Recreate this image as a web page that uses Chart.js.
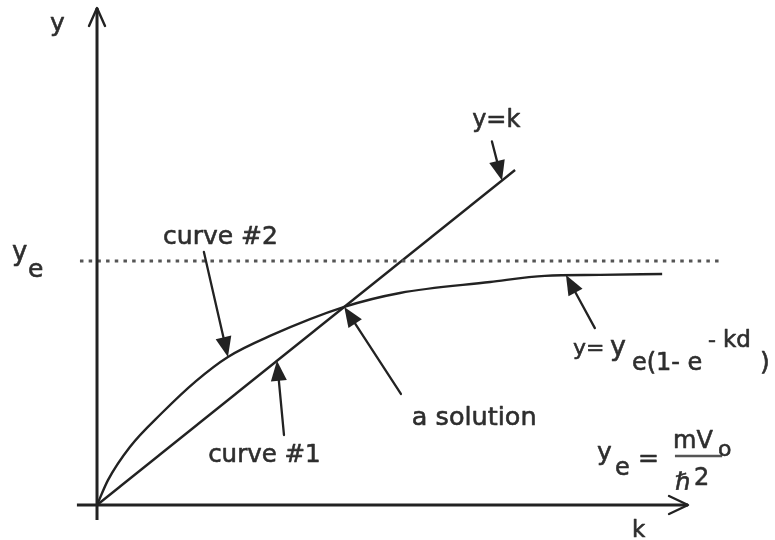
<!DOCTYPE html>
<html>
<head>
<meta charset="utf-8">
<script src="https://cdn.jsdelivr.net/npm/chart.js@4.4.0/dist/chart.umd.js"></script>
<style>
  html, body { margin: 0; padding: 0; background: #fff; }
  #wrap { width: 775px; height: 540px; }
  canvas { filter: blur(0.5px); }
</style>
</head>
<body>
<div id="wrap"><canvas id="chart" width="775" height="540"></canvas></div>
<script>
// curve #1: y = k
const lineK = [0, 1.373];
const lineY = [0, 1.373];

// curve #2: y = ye(1 - e^-kd), with ye = 1
const curveK = [0, 0.036, 0.108, 0.213, 0.325, 0.430, 0.568, 0.812, 0.995, 1.291, 1.471, 1.652, 1.856];
const curveY = [0, 0.102, 0.238, 0.377, 0.508, 0.607, 0.693, 0.812, 0.869, 0.914, 0.939, 0.943, 0.947];

// saturation level ye and the k range of its dotted line
const yeLevel = 1;
const yeSpan = [-0.056, 2.053];

// axis extents
const kAxisSpan = [-0.066, 1.941];
const yAxisSpan = [-0.061, 2.037];

const ink = '#222';
const textInk = '#2e2e2e';
const FONT = '"DejaVu Sans", sans-serif';

function toPoints(xs, ys) {
    return xs.map((x, i) => ({ x: x, y: ys[i] }));
}

// pointer arrows: tail -> tip, in data units
const pointers = [
    { from: [1.297, 1.490], to: [1.330, 1.330] },   // y=k
    { from: [0.351, 1.037], to: [0.430, 0.607] },   // curve #2
    { from: [0.614, 0.287], to: [0.591, 0.591] },   // curve #1
    { from: [0.998, 0.455], to: [0.812, 0.812] },   // a solution
    { from: [1.635, 0.725], to: [1.540, 0.943] }    // y = ye(1 - e^-kd)
];

// text, anchored at left/baseline in data units; dx/dy place each run in px
const labels = [
    { at: [-0.154, 1.943], runs: [{ t: 'y', size: 25 }] },
    { at: [-0.279, 1.004], runs: [{ t: 'y', size: 26 }, { t: 'e', size: 25, dx: 16, dy: 17 }] },
    { at: [0.217, 1.070], runs: [{ t: 'curve #2', size: 25 }] },
    { at: [1.232, 1.549], runs: [{ t: 'y=k', size: 24 }] },
    { at: [0.365, 0.176], runs: [{ t: 'curve #1', size: 24.5 }] },
    { at: [1.034, 0.328], runs: [{ t: 'a solution', size: 25.5 }] },
    { at: [1.563, 0.615], runs: [
        { t: 'y=', size: 22 },
        { t: 'y', size: 27, dx: 37 },
        { t: 'e(1- e', size: 24, dx: 59, dy: 15 },
        { t: '-', size: 22, dx: 135, dy: -8 },
        { t: 'kd', size: 23, dx: 150, dy: -8 },
        { t: ')', size: 25, dx: 187, dy: 15 }
    ] },
    { at: [1.642, 0.184], runs: [{ t: 'y', size: 25 }, { t: 'e', size: 24, dx: 18, dy: 15 }] },
    { at: [1.777, 0.160], runs: [{ t: '=', size: 25 }] },
    { at: [1.892, 0.234], runs: [{ t: 'mV', size: 24 }, { t: 'o', size: 22, dx: 45, dy: 8 }] },
    { at: [1.898, 0.061], runs: [{ t: '\u210F', size: 24 }, { t: '2', size: 24, dx: 19, dy: -5 }] },
    { at: [1.757, -0.131], runs: [{ t: 'k', size: 23 }] }
];

// fraction bar of mVo / h-bar^2
const fractionBar = { k: [1.898, 2.053], y: 0.201 };

function drawLabel(ctx, x, y, runs) {
    runs.forEach(r => {
        ctx.font = r.size + 'px ' + FONT;
        const rx = x + (r.dx || 0), ry = y + (r.dy || 0);
        ctx.fillText(r.t, rx, ry);
        ctx.strokeText(r.t, rx, ry);
    });
}

const diagramPlugin = {
    id: 'diagram',
    afterDatasetsDraw(chart) {
        const ctx = chart.ctx;
        const xs = chart.scales.x, ys = chart.scales.y;
        const px = v => xs.getPixelForValue(v);
        const py = v => ys.getPixelForValue(v);

        ctx.save();
        ctx.strokeStyle = ink;
        ctx.fillStyle = ink;
        ctx.lineCap = 'round';
        ctx.lineJoin = 'round';

        // open heads on both axes
        ctx.lineWidth = 2.4;
        const kx = px(kAxisSpan[1]), ky = py(0);
        ctx.beginPath();
        ctx.moveTo(kx - 19, ky - 9); ctx.lineTo(kx, ky); ctx.lineTo(kx - 19, ky + 9);
        ctx.stroke();
        const yx = px(0), yy = py(yAxisSpan[1]);
        ctx.beginPath();
        ctx.moveTo(yx - 8, yy + 18); ctx.lineTo(yx, yy); ctx.lineTo(yx + 8, yy + 18);
        ctx.stroke();

        // pointer arrows with filled heads
        pointers.forEach(p => {
            const x0 = px(p.from[0]), y0 = py(p.from[1]);
            const x1 = px(p.to[0]), y1 = py(p.to[1]);
            const a = Math.atan2(y1 - y0, x1 - x0);
            const len = 20, half = 8;
            const bx = x1 - len * Math.cos(a), by = y1 - len * Math.sin(a);
            ctx.lineWidth = 2.3;
            ctx.beginPath();
            ctx.moveTo(x0, y0); ctx.lineTo(bx, by);
            ctx.stroke();
            ctx.beginPath();
            ctx.moveTo(x1, y1);
            ctx.lineTo(bx + half * Math.sin(a), by - half * Math.cos(a));
            ctx.lineTo(bx - half * Math.sin(a), by + half * Math.cos(a));
            ctx.closePath();
            ctx.fill();
        });

        // fraction bar
        ctx.lineWidth = 2.5;
        ctx.lineCap = 'butt';
        ctx.strokeStyle = '#555';
        ctx.beginPath();
        ctx.moveTo(px(fractionBar.k[0]), py(fractionBar.y));
        ctx.lineTo(px(fractionBar.k[1]), py(fractionBar.y));
        ctx.stroke();

        // labels
        ctx.fillStyle = textInk;
        ctx.strokeStyle = textInk;
        ctx.lineWidth = 0.6;
        ctx.textBaseline = 'alphabetic';
        ctx.textAlign = 'left';
        labels.forEach(l => drawLabel(ctx, px(l.at[0]), py(l.at[1]), l.runs));

        ctx.restore();
    }
};

const solid = { showLine: true, pointRadius: 0, borderColor: ink, fill: false };

new Chart(document.getElementById('chart'), {
    type: 'scatter',
    data: {
        datasets: [
            Object.assign({ label: 'k axis', data: toPoints(kAxisSpan, [0, 0]), borderWidth: 3 }, solid),
            Object.assign({ label: 'y axis', data: toPoints([0, 0], yAxisSpan), borderWidth: 3 }, solid),
            Object.assign({ label: 'ye', data: toPoints(yeSpan, [yeLevel, yeLevel]), borderWidth: 3,
                borderDash: [3.5, 5.2], borderCapStyle: 'butt', borderColor: '#555' }, { showLine: true, pointRadius: 0 }),
            Object.assign({ label: 'curve #1', data: toPoints(lineK, lineY), borderWidth: 2.4 }, solid),
            Object.assign({ label: 'curve #2', data: toPoints(curveK, curveY), borderWidth: 2.4,
                cubicInterpolationMode: 'monotone' }, solid)
        ]
    },
    options: {
        responsive: false,
        animation: false,
        layout: { padding: 0 },
        scales: {
            x: { type: 'linear', min: -0.3186, max: 2.2266, display: false },
            y: { type: 'linear', min: -0.1434, max: 2.0697, display: false }
        },
        plugins: {
            legend: { display: false },
            tooltip: { enabled: false }
        }
    },
    plugins: [diagramPlugin]
});
</script>
</body>
</html>
